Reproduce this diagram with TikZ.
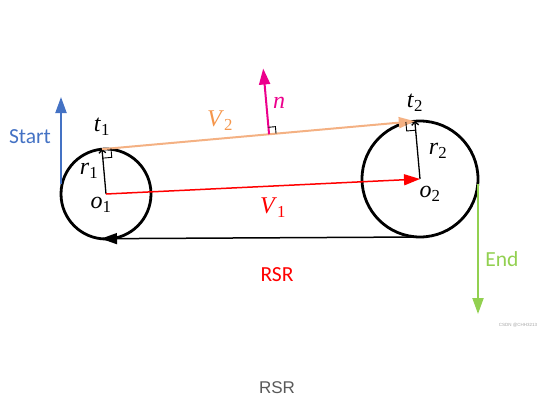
\documentclass[tikz,border=0pt]{standalone}
\usepackage{fontspec}
\setmainfont{Carlito}
\newfontfamily\arialfont{Liberation Sans}
\newfontfamily\timesfont{Liberation Serif}
\usetikzlibrary{arrows.meta, calc, positioning}
\definecolor{startblue}{RGB}{68,114,196}
\definecolor{endgreen}{RGB}{146,208,80}
\definecolor{vline}{RGB}{244,177,131}
\definecolor{vtext}{RGB}{245,150,75}
\definecolor{capgray}{RGB}{89,89,89}

% italic letter with upright subscript
\newcommand{\vsym}[2]{\textit{#1}\textsubscript{#2}}

\tikzset{
    wheel/.style={draw, line width=2.8pt},
    radius/.style={line width=1.3pt, -{Straight Barb[length=3pt,width=7pt]}},
    mathlbl/.style={font=\timesfont\fontsize{24}{28}\selectfont},
    sidelbl/.style={font=\fontsize{21.5}{24}\selectfont},
    bigtip/.style={-{Triangle[length=16pt,width=11pt]}},
    rightangle/.style={line width=0.9pt}
}

\begin{document}
\begin{tikzpicture}[x=1pt, y=1pt]
    \useasboundingbox (0,0) rectangle (556,416);
    % centres and tangent points
    \coordinate (o1) at (106,222);
    \coordinate (o2) at (420,237);
    \coordinate (t1) at ($(o1)+(95.1:45)$);
    \coordinate (t2) at ($(o2)+(95.1:58)$);
    \coordinate (nfoot) at ($(t1)!0.534!(t2)$);
    \coordinate (ntip) at ($(nfoot)+(95.1:66)$);
    \coordinate (b1) at ($(o1)+(-5,-44.7)$);
    \coordinate (b2) at ($(o2)+(0,-58)$);
    \coordinate (startlow) at ($(o1)+(-45,10)$);
    \coordinate (starttop) at ($(startlow)+(0,87)$);
    \coordinate (endtop) at ($(o2)+(58,-5)$);
    \coordinate (endlow) at ($(endtop)+(0,-130)$);

    \draw[wheel] (o1) circle (45);
    \draw[wheel] (o2) circle (58);

    % radii
    \draw[radius] (o1) -- (t1);
    \draw[radius] (o2) -- (t2);

    % straight paths
    \draw[red, line width=1.5pt, bigtip] (o1) -- (o2);
    \draw[vline, line width=2pt, bigtip] (t1) -- (t2);
    \draw[black, line width=1.5pt, bigtip] (b2) -- (b1);
    \draw[magenta, line width=2pt, bigtip] (nfoot) -- (ntip);
    \draw[startblue, line width=2pt, bigtip] (startlow) -- (starttop);
    \draw[endgreen, line width=2pt, bigtip] (endtop) -- (endlow);

    % right angle marks
    \draw[rightangle] ($(t1)+(5.1:9)$) -- ++(275.1:9) -- ($(t1)+(275.1:9)$);
    \draw[rightangle] ($(t2)+(185.1:9)$) -- ++(275.1:9) -- ($(t2)+(275.1:9)$);
    \draw[rightangle] ($(nfoot)+(5.1:7)$) -- ++(95.1:7) -- ($(nfoot)+(95.1:7)$);

    % labels
    \node[mathlbl] (lt1) at (102,289) {\vsym{t}{1}};
    \node[mathlbl] (lr1) at (89,245) {\vsym{r}{1}};
    \node[mathlbl] (lo1) at (101,211) {\vsym{o}{1}};
    \node[mathlbl] (lt2) at (415,313) {\vsym{t}{2}};
    \node[mathlbl] (lr2) at (438,265) {\vsym{r}{2}};
    \node[mathlbl] (lo2) at (430,222) {\vsym{o}{2}};
    \node[mathlbl, text=vtext] (lv2) at (220,295) {\vsym{V}{2}};
    \node[mathlbl, text=red] (lv1) at (273,208) {\vsym{V}{1}};
    \node[mathlbl, text=magenta] (ln) at (279,313) {\textit{n}};
    \node[sidelbl, text=startblue] (lstart) at (30,279) {Start};
    \node[sidelbl, text=endgreen] (lend) at (502,157) {End};
    \node[sidelbl, text=red] (lrsr) at (277,141) {RSR};
    \node[font=\arialfont\fontsize{17}{20}\selectfont, text=capgray] (caption) at (277,28) {RSR};
    \node[font=\arialfont\fontsize{4.5}{5}\selectfont, text=gray!70] (mark) at (518,91) {CSDN @CHH3213};
\end{tikzpicture}
\end{document}
